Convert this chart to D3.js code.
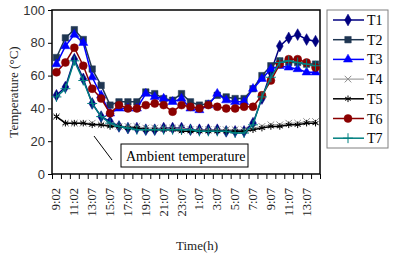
<!DOCTYPE html>
<html>
<head>
<meta charset="utf-8">
<script src="https://cdn.jsdelivr.net/npm/d3@7"></script>
<style>
  body { margin: 0; background: #fff; }
  svg { display: block; }
  .serif { font-family: "Liberation Serif", "Times New Roman", serif; }
  .sans { font-family: "Liberation Sans", Arial, sans-serif; }
</style>
</head>
<body>
<div id="chart"></div>
<script>
// Time labels (one per hourly reading, every other one shown)
const times = ["9:02","10:02","11:02","12:07","13:07","14:07","15:07","16:07","17:07","18:07",
  "19:07","20:07","21:07","22:07","23:07","0:07","1:07","2:07","3:07","4:07",
  "5:07","6:07","7:07","8:07","9:07","10:07","11:07","12:07","13:07","14:07"];

// Series values (temperature, °C)
const t1 = [48,53,70,58,43,35,32,29,28,28,27,27,28,28,28,27,27,27,27,26,26,26,31,46,62,78,83,85,82,81];
const t2 = [71,83,88,82,64,54,42,44,44,44,50,49,46,45,49,44,42,43,48,47,46,46,52,60,66,69,68,68,67,67];
const t3 = [67,78,85,80,59,48,37,40,40,40,49,47,46,44,46,40,39,42,49,45,44,44,52,58,64,66,65,64,62,62];
const t4 = [35,31,31,31,31,30,30,29,29,29,28,28,28,28,28,27,27,27,27,27,27,27,28,29,30,30,31,31,32,32];
const t5 = [35,31,31,31,30,30,29,29,28,28,27,27,27,27,26,26,26,26,26,26,26,26,27,28,29,29,30,30,31,31];
const t6 = [62,68,77,66,52,46,37,42,40,40,42,43,42,38,42,41,40,42,41,40,40,41,41,48,57,67,70,70,68,65];
const t7 = [47,52,69,57,43,35,31,29,28,27,27,27,27,27,27,27,26,26,26,26,25,25,30,47,59,68,69,68,67,66];

const yTicks = [0, 20, 40, 60, 80, 100];

const series = [
  { name: "T1", values: t1, color: "#000080", symbol: d3.symbolDiamond, size: 40, fill: true },
  { name: "T2", values: t2, color: "#1f3652", symbol: d3.symbolSquare, size: 42, fill: true },
  { name: "T3", values: t3, color: "#0000ff", symbol: d3.symbolTriangle, size: 36, fill: true },
  { name: "T4", values: t4, color: "#8c8c8c", symbol: d3.symbolTimes, size: 30, fill: false },
  { name: "T5", values: t5, color: "#000000", symbol: d3.symbolAsterisk, size: 30, fill: false },
  { name: "T6", values: t6, color: "#8b0000", symbol: d3.symbolCircle, size: 50, fill: true },
  { name: "T7", values: t7, color: "#008080", symbol: d3.symbolPlus, size: 34, fill: false }
];

const w = 395, h = 256;
const plotL = 52, plotR = 320, plotT = 10, plotB = 174;

const svg = d3.select("#chart").append("svg").attr("width", w).attr("height", h);

// Scales
const x = d3.scaleBand().domain(d3.range(times.length)).range([plotL, plotR]).paddingInner(0).paddingOuter(0);
const xEdge = d3.scaleLinear().domain([0, times.length]).range([plotL, plotR]);
const y = d3.scaleLinear().domain([0, 100]).range([plotB, plotT]);
const cx = i => x(i) + x.bandwidth() / 2;

// Y axis
const yAxis = svg.append("g").attr("transform", "translate(" + plotL + ",0)")
  .call(d3.axisLeft(y).tickValues(yTicks).tickSize(4).tickPadding(3));
yAxis.select(".domain").remove();
yAxis.selectAll("text").attr("class", "sans").style("font-size", "13px").attr("fill", "#333");

// X axis ticks at category boundaries
const xAxis = svg.append("g").attr("transform", "translate(0," + plotB + ")")
  .call(d3.axisBottom(xEdge).tickValues(d3.range(times.length + 1)).tickSize(5).tickFormat(""));
xAxis.select(".domain").remove();

// X labels, rotated
svg.append("g").selectAll("text")
  .data(times.map((t, i) => ({ t, i })).filter(d => d.i % 2 == 0))
  .join("text")
  .attr("class", "serif")
  .attr("transform", d => "translate(" + (cx(d.i) + 4) + "," + (plotB + 14) + ") rotate(-90)")
  .attr("text-anchor", "end")
  .style("font-size", "12.5px")
  .attr("fill", "#222")
  .text(d => d.t);

// Plot frame
svg.append("rect").attr("x", plotL).attr("y", plotT).attr("width", plotR - plotL).attr("height", plotB - plotT)
  .attr("fill", "none").attr("stroke", "#000").attr("stroke-width", 1.5);

// Lines & markers
const line = d3.line().x((d, i) => cx(i)).y(d => y(d));
series.forEach(s => {
  const g = svg.append("g");
  g.append("path").datum(s.values).attr("d", line).attr("fill", "none")
    .attr("stroke", s.color).attr("stroke-width", s.name == "T4" ? 1 : 1.5);
  g.selectAll("path.m").data(s.values).join("path").attr("class", "m")
    .attr("transform", (d, i) => "translate(" + cx(i) + "," + y(d) + ")")
    .attr("d", d3.symbol().type(s.symbol).size(s.size))
    .attr("fill", s.fill ? s.color : "none")
    .attr("stroke", s.color).attr("stroke-width", s.fill ? 0.5 : 1);
});

// Ambient temperature annotation
svg.append("line").attr("x1", 94).attr("y1", 136).attr("x2", 112).attr("y2", 160)
  .attr("stroke", "#000").attr("stroke-width", 1);
svg.append("rect").attr("x", 121).attr("y", 144).attr("width", 127).attr("height", 23)
  .attr("fill", "#fff").attr("stroke", "#000").attr("stroke-width", 1);
svg.append("text").attr("class", "serif").attr("x", 126).attr("y", 161)
  .style("font-size", "14px").text("Ambient temperature");

// Axis titles
svg.append("text").attr("class", "serif").attr("transform", "translate(18,92) rotate(-90)")
  .attr("text-anchor", "middle").style("font-size", "13px").attr("fill", "#222").text("Temperature (°C)");
svg.append("text").attr("class", "serif").attr("x", 197).attr("y", 250)
  .attr("text-anchor", "middle").style("font-size", "13px").attr("fill", "#222").text("Time(h)");

// Legend
const legend = svg.append("g");
legend.append("rect").attr("x", 327).attr("y", 10).attr("width", 61).attr("height", 138)
  .attr("fill", "#fff").attr("stroke", "#808080").attr("stroke-width", 1);
series.forEach((s, i) => {
  const ly = 20 + i * 19.7;
  legend.append("line").attr("x1", 333).attr("x2", 364).attr("y1", ly).attr("y2", ly)
    .attr("stroke", s.color).attr("stroke-width", s.name == "T4" ? 1 : 1.5);
  legend.append("path").attr("transform", "translate(348," + ly + ")")
    .attr("d", d3.symbol().type(s.symbol).size(s.size))
    .attr("fill", s.fill ? s.color : "none")
    .attr("stroke", s.color).attr("stroke-width", s.fill ? 0.5 : 1);
  legend.append("text").attr("class", "serif").attr("x", 367).attr("y", ly + 5)
    .style("font-size", "14px").text(s.name);
});
</script>
</body>
</html>
